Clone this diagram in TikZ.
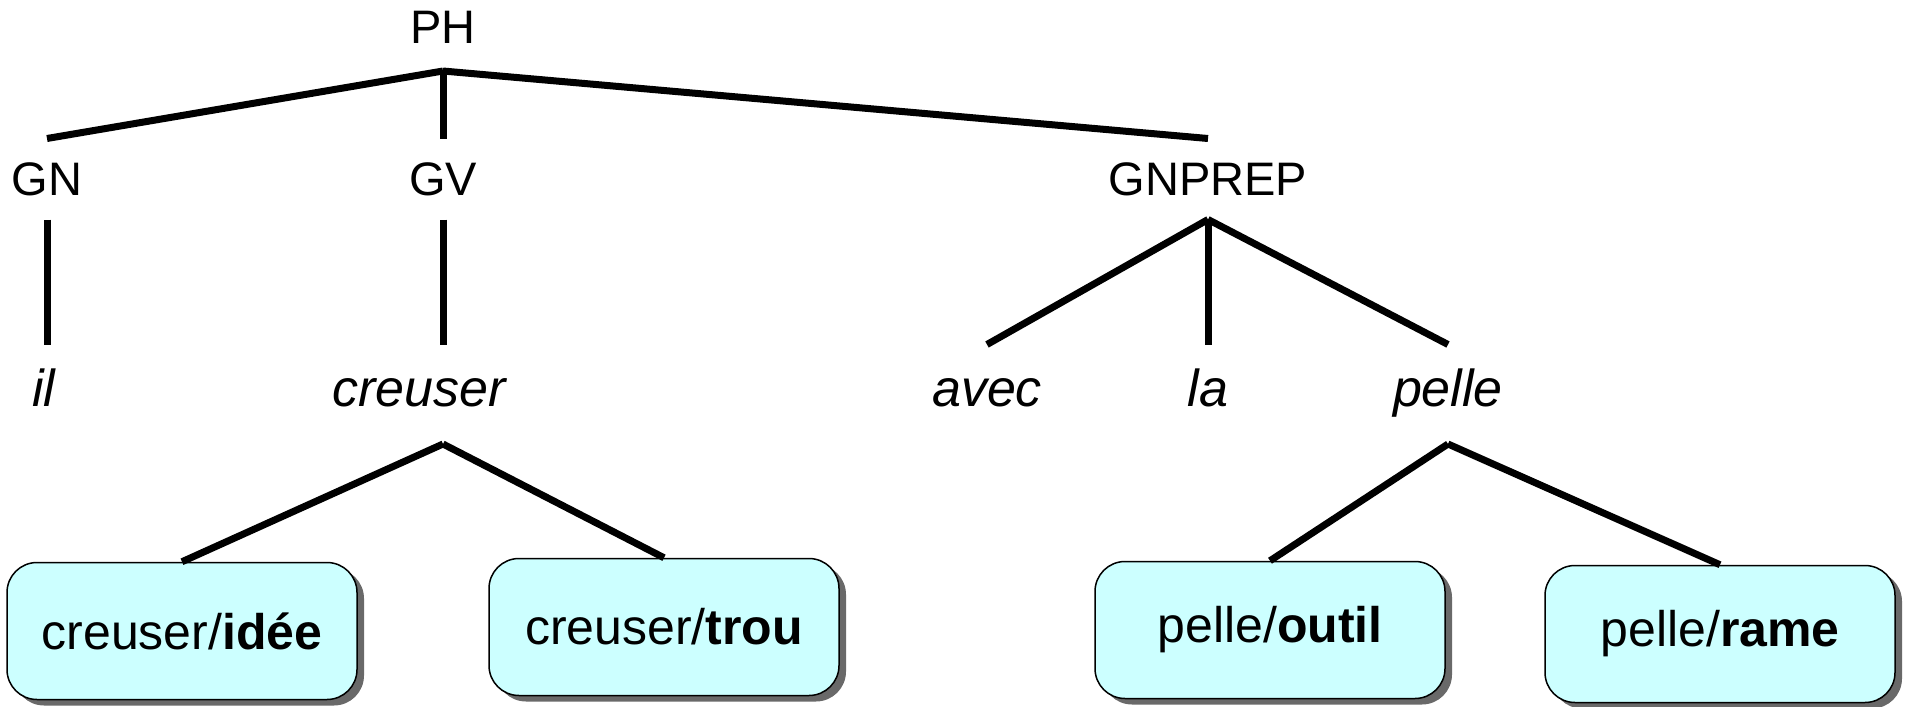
\documentclass[tikz,border=0pt]{standalone}
\usepackage{fontspec}
\setmainfont{Liberation Sans}
\usetikzlibrary{positioning,shadows,calc}
\definecolor{cSens}{RGB}{204,255,255}
\definecolor{cShade}{RGB}{105,105,105}

\begin{document}
\begin{tikzpicture}[x=1pt,y=-1pt,line width=7pt,
  cat/.style={font=\fontsize{47}{50}\selectfont,inner sep=0pt,anchor=base,text height=53pt,text depth=21pt},
  word/.style={font=\fontsize{52}{54}\selectfont\itshape,inner sep=0pt,anchor=base,text height=58pt,text depth=0pt},
  sens/.style={draw,line width=1.5pt,fill=cSens,rounded corners=30pt,minimum width=350pt,minimum height=137pt,font=\fontsize{50}{52}\selectfont,
    drop shadow={shadow xshift=7pt,shadow yshift=-6pt,fill=cShade,opacity=1}}]
  \useasboundingbox (0,0) rectangle (1907,707);
  \node[cat] (PH) at (443,43) {PH};
  \node[cat] (GN) at (47,195) {GN};
  \node[cat] (GV) at (443,195) {GV};
  \node[cat] (GNPREP) at (1208,195) {GNPREP};
  \node[word] (il) at (44,406) {il};
  \node[word] (creuser) at (419,406) {creuser};
  \node[word] (avec) at (987,406) {avec};
  \node[word] (la) at (1208,406) {la};
  \node[word] (pelle) at (1448,406) {pelle};
  \coordinate (PH-j) at (443,71);
  \coordinate (creuser-j) at (443,444);
  \coordinate (pelle-j) at (1448,444);
  \node[sens] (idee) at (182,631) {creuser/\textbf{idée}};
  \node[sens] (trou) at (664,627) {creuser/\textbf{trou}};
  \node[sens] (outil) at (1270,630) {pelle/\textbf{outil}};
  \node[sens] (rame) at (1720,634) {pelle/\textbf{rame}};
  \draw (PH-j) -- (GN.north);
  \draw (PH-j) -- (GV.north);
  \draw (PH-j) -- (GNPREP.north);
  \draw (GN.south) -- (GN.south |- il.north);
  \draw (GV.south) -- (GV.south |- creuser.north);
  \draw (GNPREP.south) -- (avec.north);
  \draw (GNPREP.south) -- (la.north);
  \draw (GNPREP.south) -- (pelle.north);
  \draw (creuser-j) -- (idee.north);
  \draw (creuser-j) -- (trou.north);
  \draw (pelle-j) -- (outil.north);
  \draw (pelle-j) -- (rame.north);
\end{tikzpicture}
\end{document}
